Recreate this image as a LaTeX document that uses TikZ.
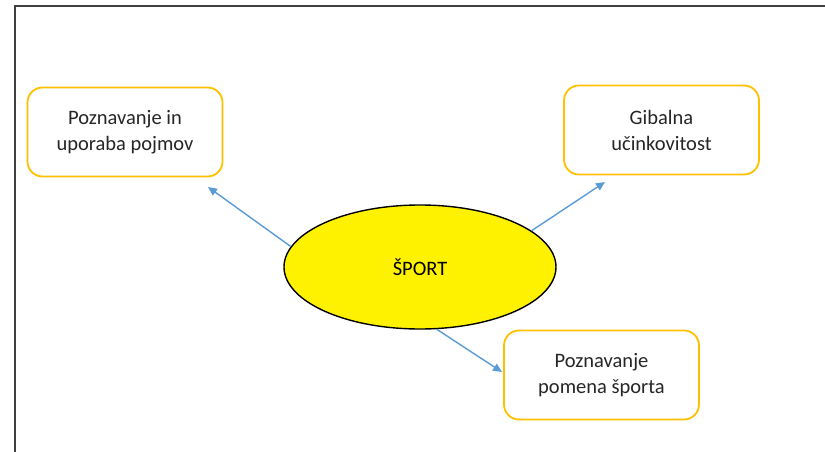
\documentclass[tikz,border=0pt]{standalone}
\usepackage{fontspec}
\setmainfont{Carlito}
\usetikzlibrary{arrows.meta,shapes.geometric}
\definecolor{boxorange}{HTML}{FFC000}
\definecolor{arrowblue}{HTML}{5B9BD5}
\definecolor{frameg}{HTML}{404040}
\begin{document}
\begin{tikzpicture}[x=1pt,y=-1pt,
  topic/.style={draw=boxorange, line width=1.8pt, rounded corners=15pt, fill=white,
    minimum width=195pt, minimum height=89pt, align=center, inner sep=0pt,
    font=\fontsize{20.5}{26}\selectfont, text=black!85},
  centre/.style={ellipse, draw=black, line width=1.4pt, fill=yellow,
    minimum width=272pt, minimum height=124pt, inner sep=0pt,
    font=\fontsize{20.5}{26}\selectfont},
  link/.style={draw=arrowblue, line width=1.4pt, -{Triangle[length=9pt,width=8pt]}},
  frame/.style={draw=frameg, line width=1.6pt}]
\useasboundingbox (0,0) rectangle (825,452);
\draw[frame] (825,6) -- (15,6) -- (15,452);
\node[centre] (sport) at (420,267) {ŠPORT};
\node[topic] (pojmi) at (125,132) {Poznavanje in\\uporaba pojmov};
\node[topic] (gib) at (661.5,130) {Gibalna\\učinkovitost};
\node[topic] (pomen) at (601.5,375) {Poznavanje\\pomena športa};
\coordinate (tipL) at (208,187);
\coordinate (tipR) at (605,182);
\coordinate (tipB) at (502,372);
\draw[link] (sport.171) -- (tipL);
\draw[link] (sport.18.6) -- (tipR);
\draw[link] (sport.285) -- (tipB);
\end{tikzpicture}
\end{document}
